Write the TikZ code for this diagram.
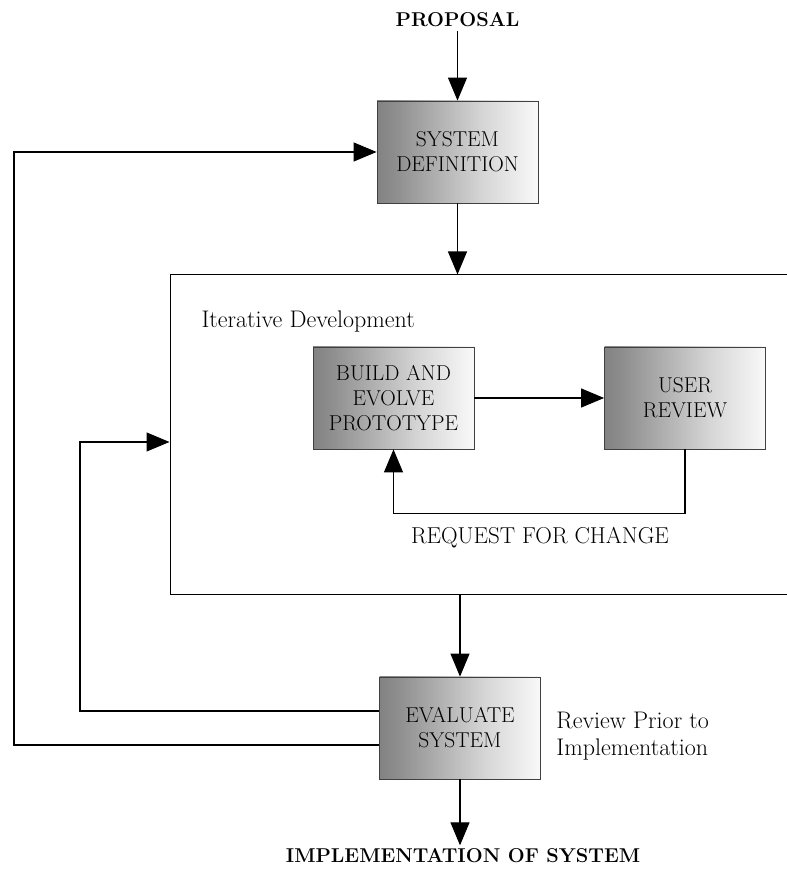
\documentclass[tikz,border=0pt]{standalone}
\usepackage{fontspec}
\usetikzlibrary{arrows.meta, positioning}
\pgfdeclarehorizontalshading{boxfade}{100bp}{color(0bp)=(black!68); color(30bp)=(black!45); color(58bp)=(black!16); color(78bp)=(white); color(100bp)=(white)}

\begin{document}
\begin{tikzpicture}[x=1pt, y=1pt,
    % Style definitions
    stage/.style={rectangle, minimum width=161pt, minimum height=102pt, align=center,
                  draw=black!75, line width=0.8pt, shade, shading=boxfade,
                  font=\fontsize{21.5}{25}\selectfont},
    frame/.style={rectangle, draw=black, line width=1pt, minimum width=620pt, minimum height=320pt},
    endpoint/.style={font=\fontsize{20}{23}\selectfont\bfseries},
    note/.style={font=\fontsize{24}{27}\selectfont, align=left},
    arrow/.style={-{Triangle[length=23pt, width=19pt]}, line width=1.1pt},
]
\useasboundingbox (0,0) rectangle (787,881);

% Main line
\node[endpoint] (proposal) at (457.5,861) {PROPOSAL};
\node[stage] (sysdef) at (457.5,729) {SYSTEM\\DEFINITION};
\node[frame] (iter) at (480,446) {};
\node[note, anchor=west] (iterlbl) at (198,559) {Iterative Development};
\node[stage] (build) at (393.5,483) {BUILD AND\\EVOLVE\\PROTOTYPE};
\node[stage] (review) at (685,483) {USER\\REVIEW};
\node[note, font=\fontsize{23}{26}\selectfont] (rfc) at (540,343) {REQUEST FOR CHANGE};
\node[stage] (eval) at (460,153) {EVALUATE\\SYSTEM};
\node[note, right=12pt of eval, yshift=-8pt] (prior) {Review Prior to\\Implementation};
\node[endpoint] (impl) at (463,25) {IMPLEMENTATION OF SYSTEM};

% Turning points of the loops
\coordinate (inner) at (80,439);
\coordinate (outer) at (14,729);

% Arrows
\draw[arrow] (proposal) -- (sysdef);
\draw[arrow] (sysdef) -- (sysdef |- iter.north);
\draw[arrow] (build) -- (review);
\draw[arrow] (review.south) -- ++(0,-64) -| (build.south);
\draw[arrow] (eval |- iter.south) -- (eval);
\draw[arrow] (eval) -- (eval |- impl.north);
\draw[arrow] ([yshift=17pt]eval.west) -| (inner) -- (inner -| iter.west);
\draw[arrow] ([yshift=-17pt]eval.west) -| (outer) -- (sysdef.west);

\end{tikzpicture}
\end{document}
